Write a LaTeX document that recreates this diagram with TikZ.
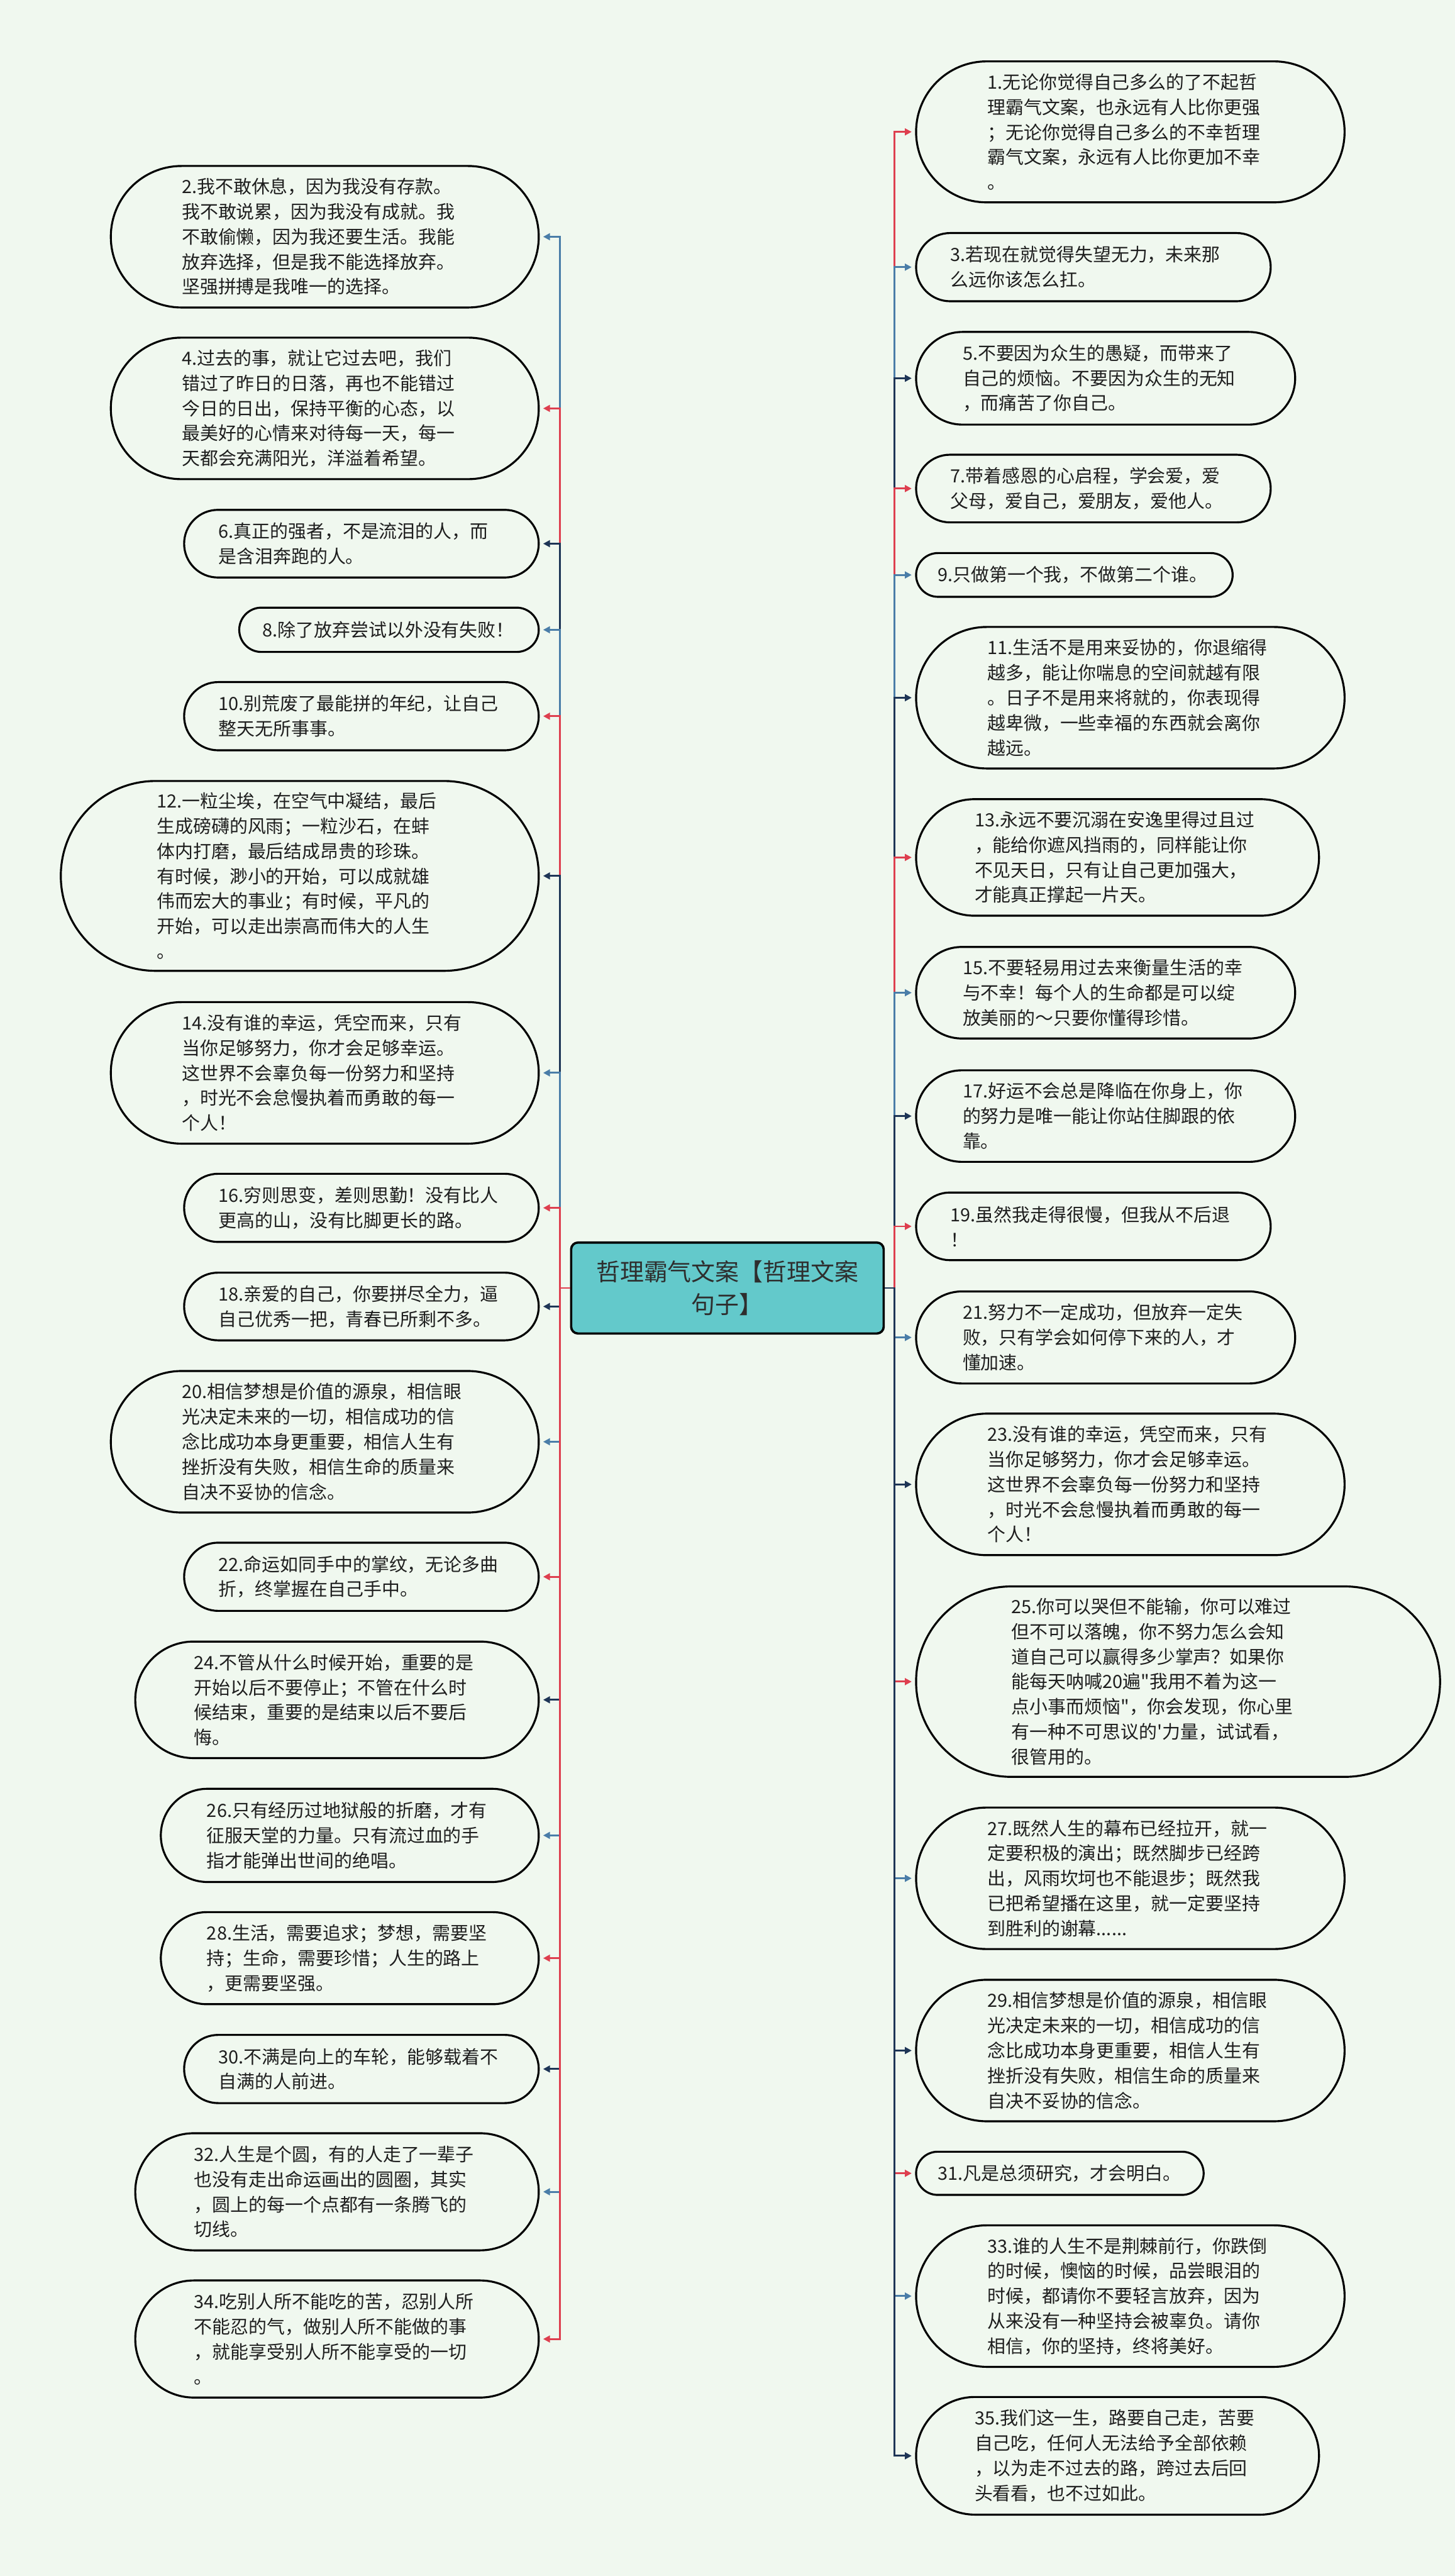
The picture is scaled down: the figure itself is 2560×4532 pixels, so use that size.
\documentclass[tikz,border=0pt]{standalone}
\usepackage{fontspec}
\newfontfamily\cjk{Noto Sans CJK SC}
\usetikzlibrary{shapes.misc,arrows.meta}
\definecolor{bg}{HTML}{F0F8EF}
\definecolor{cred}{HTML}{DE3F4F}
\definecolor{cblue}{HTML}{4A7DA8}
\definecolor{cnavy}{HTML}{1E3556}
\definecolor{rootfill}{HTML}{63C9CB}
\definecolor{txt}{HTML}{1E1E1E}
\definecolor{roottxt}{HTML}{2E2E2E}
\tikzset{
  leaf/.style={draw=black, line width=3.5pt, fill=bg, rounded rectangle, inner sep=0pt,
    text width=503pt, align=left, text=txt, font=\cjk\fontsize{32}{44}\selectfont},
  sz/.style 2 args={minimum width=#1pt, minimum height=#2pt},
  rootbox/.style={draw=black, line width=4pt, fill=rootfill, rounded corners=12pt,
    minimum width=550pt, minimum height=160pt, align=center, text=roottxt,
    font=\cjk\fontsize{42}{57}\selectfont},
  conn/.style={line width=3.2pt, -{Triangle[length=12pt,width=12pt]}, shorten >=6pt}
}
\begin{document}
\begin{tikzpicture}[x=1pt,y=-1pt]
\fill[bg] (0,0) rectangle (2560,4532);
\useasboundingbox (0,0) rectangle (2560,4532);

\node[rootbox] (root) at (1280,2266) {哲理霸气文案【哲理文案\\句子】};
\coordinate (LT) at (985,2266);
\coordinate (RT) at (1574,2266);

% left column
\node[leaf, sz={753}{249}] (n2) at (571.5,416.5) {2.我不敢休息，因为我没有存款。\\我不敢说累，因为我没有成就。我\\不敢偷懒，因为我还要生活。我能\\放弃选择，但是我不能选择放弃。\\坚强拼搏是我唯一的选择。};
\node[leaf, sz={753}{249}] (n4) at (571.5,718.5) {4.过去的事，就让它过去吧，我们\\错过了昨日的日落，再也不能错过\\今日的日出，保持平衡的心态，以\\最美好的心情来对待每一天，每一\\天都会充满阳光，洋溢着希望。};
\node[leaf, sz={624}{119}] (n6) at (636,956.5) {6.真正的强者，不是流泪的人，而\\是含泪奔跑的人。};
\node[leaf, sz={527}{78}, text width=445pt] (n8) at (684.5,1108) {8.除了放弃尝试以外没有失败！};
\node[leaf, sz={624}{120}] (n10) at (636,1260) {10.别荒废了最能拼的年纪，让自己\\整天无所事事。};
\node[leaf, sz={841}{334}] (n12) at (527.5,1541) {12.一粒尘埃，在空气中凝结，最后\\生成磅礴的风雨；一粒沙石，在蚌\\体内打磨，最后结成昂贵的珍珠。\\有时候，渺小的开始，可以成就雄\\伟而宏大的事业；有时候，平凡的\\开始，可以走出崇高而伟大的人生\\。};
\node[leaf, sz={753}{249}] (n14) at (571.5,1887.5) {14.没有谁的幸运，凭空而来，只有\\当你足够努力，你才会足够幸运。\\这世界不会辜负每一份努力和坚持\\，时光不会怠慢执着而勇敢的每一\\个人！};
\node[leaf, sz={624}{120}] (n16) at (636,2125) {16.穷则思变，差则思勤！没有比人\\更高的山，没有比脚更长的路。};
\node[leaf, sz={624}{119}] (n18) at (636,2298.5) {18.亲爱的自己，你要拼尽全力，逼\\自己优秀一把，青春已所剩不多。};
\node[leaf, sz={753}{249}] (n20) at (571.5,2536.5) {20.相信梦想是价值的源泉，相信眼\\光决定未来的一切，相信成功的信\\念比成功本身更重要，相信人生有\\挫折没有失败，相信生命的质量来\\自决不妥协的信念。};
\node[leaf, sz={624}{120}] (n22) at (636,2774) {22.命运如同手中的掌纹，无论多曲\\折，终掌握在自己手中。};
\node[leaf, sz={710}{205}] (n24) at (593,2990.5) {24.不管从什么时候开始，重要的是\\开始以后不要停止；不管在什么时\\候结束，重要的是结束以后不要后\\悔。};
\node[leaf, sz={665}{164}] (n26) at (615.5,3229) {26.只有经历过地狱般的折磨，才有\\征服天堂的力量。只有流过血的手\\指才能弹出世间的绝唱。};
\node[leaf, sz={665}{162}] (n28) at (615.5,3445) {28.生活，需要追求；梦想，需要坚\\持；生命，需要珍惜；人生的路上\\，更需要坚强。};
\node[leaf, sz={624}{120}] (n30) at (636,3640) {30.不满是向上的车轮，能够载着不\\自满的人前进。};
\node[leaf, sz={710}{206}] (n32) at (593,3856) {32.人生是个圆，有的人走了一辈子\\也没有走出命运画出的圆圈，其实\\，圆上的每一个点都有一条腾飞的\\切线。};
\node[leaf, sz={710}{206}] (n34) at (593,4115) {34.吃别人所不能吃的苦，忍别人所\\不能忍的气，做别人所不能做的事\\，就能享受别人所不能享受的一切\\。};

% right column
\node[leaf, sz={754}{248}] (n1) at (1989,232) {1.无论你觉得自己多么的了不起哲\\理霸气文案，也永远有人比你更强\\；无论你觉得自己多么的不幸哲理\\霸气文案，永远有人比你更加不幸\\。};
\node[leaf, sz={624}{120}] (n3) at (1924,470) {3.若现在就觉得失望无力，未来那\\么远你该怎么扛。};
\node[leaf, sz={667}{163}] (n5) at (1945.5,665.5) {5.不要因为众生的愚疑，而带来了\\自己的烦恼。不要因为众生的无知\\，而痛苦了你自己。};
\node[leaf, sz={624}{119}] (n7) at (1924,859.5) {7.带着感恩的心启程，学会爱，爱\\父母，爱自己，爱朋友，爱他人。};
\node[leaf, sz={557}{77}, text width=481pt] (n9) at (1890.5,1011.5) {9.只做第一个我，不做第二个谁。};
\node[leaf, sz={754}{249}] (n11) at (1989,1227.5) {11.生活不是用来妥协的，你退缩得\\越多，能让你喘息的空间就越有限\\。日子不是用来将就的，你表现得\\越卑微，一些幸福的东西就会离你\\越远。};
\node[leaf, sz={709}{205}] (n13) at (1966.5,1508.5) {13.永远不要沉溺在安逸里得过且过\\，能给你遮风挡雨的，同样能让你\\不见天日，只有让自己更加强大，\\才能真正撑起一片天。};
\node[leaf, sz={667}{161}] (n15) at (1945.5,1746.5) {15.不要轻易用过去来衡量生活的幸\\与不幸！每个人的生命都是可以绽\\放美丽的～只要你懂得珍惜。};
\node[leaf, sz={667}{161}] (n17) at (1945.5,1963.5) {17.好运不会总是降临在你身上，你\\的努力是唯一能让你站住脚跟的依\\靠。};
\node[leaf, sz={624}{119}] (n19) at (1924,2157.5) {19.虽然我走得很慢，但我从不后退\\！};
\node[leaf, sz={667}{162}] (n21) at (1945.5,2353) {21.努力不一定成功，但放弃一定失\\败，只有学会如何停下来的人，才\\懂加速。};
\node[leaf, sz={754}{249}] (n23) at (1989,2611.5) {23.没有谁的幸运，凭空而来，只有\\当你足够努力，你才会足够幸运。\\这世界不会辜负每一份努力和坚持\\，时光不会怠慢执着而勇敢的每一\\个人！};
\node[leaf, sz={922}{335}, text width=586pt] (n25) at (2073,2958.5) {25.你可以哭但不能输，你可以难过\\但不可以落魄，你不努力怎么会知\\道自己可以赢得多少掌声？如果你\\能每天呐喊20遍"我用不着为这一\\点小事而烦恼"，你会发现，你心里\\有一种不可思议的'力量，试试看，\\很管用的。};
\node[leaf, sz={754}{249}] (n27) at (1989,3304.5) {27.既然人生的幕布已经拉开，就一\\定要积极的演出；既然脚步已经跨\\出，风雨坎坷也不能退步；既然我\\已把希望播在这里，就一定要坚持\\到胜利的谢幕......};
\node[leaf, sz={754}{249}] (n29) at (1989,3607.5) {29.相信梦想是价值的源泉，相信眼\\光决定未来的一切，相信成功的信\\念比成功本身更重要，相信人生有\\挫折没有失败，相信生命的质量来\\自决不妥协的信念。};
\node[leaf, sz={506}{76}, text width=430pt] (n31) at (1865,3823.5) {31.凡是总须研究，才会明白。};
\node[leaf, sz={754}{249}] (n33) at (1989,4039.5) {33.谁的人生不是荆棘前行，你跌倒\\的时候，懊恼的时候，品尝眼泪的\\时候，都请你不要轻言放弃，因为\\从来没有一种坚持会被辜负。请你\\相信，你的坚持，终将美好。};
\node[leaf, sz={709}{207}] (n35) at (1966.5,4320.5) {35.我们这一生，路要自己走，苦要\\自己吃，任何人无法给予全部依赖\\，以为走不过去的路，跨过去后回\\头看看，也不过如此。};

% connectors left
\draw[conn, cblue] (root.west) -- (LT) |- (n2.east);
\draw[conn, cred]  (root.west) -- (LT) |- (n4.east);
\draw[conn, cnavy] (root.west) -- (LT) |- (n6.east);
\draw[conn, cblue] (root.west) -- (LT) |- (n8.east);
\draw[conn, cred]  (root.west) -- (LT) |- (n10.east);
\draw[conn, cnavy] (root.west) -- (LT) |- (n12.east);
\draw[conn, cblue] (root.west) -- (LT) |- (n14.east);
\draw[conn, cred]  (root.west) -- (LT) |- (n16.east);
\draw[conn, cnavy] (root.west) -- (LT) |- (n18.east);
\draw[conn, cblue] (root.west) -- (LT) |- (n20.east);
\draw[conn, cred]  (root.west) -- (LT) |- (n22.east);
\draw[conn, cnavy] (root.west) -- (LT) |- (n24.east);
\draw[conn, cblue] (root.west) -- (LT) |- (n26.east);
\draw[conn, cred]  (root.west) -- (LT) |- (n28.east);
\draw[conn, cnavy] (root.west) -- (LT) |- (n30.east);
\draw[conn, cblue] (root.west) -- (LT) |- (n32.east);
\draw[conn, cred]  (root.west) -- (LT) |- (n34.east);

% connectors right
\draw[conn, cred]  (root.east) -- (RT) |- (n1.west);
\draw[conn, cblue] (root.east) -- (RT) |- (n3.west);
\draw[conn, cnavy] (root.east) -- (RT) |- (n5.west);
\draw[conn, cred]  (root.east) -- (RT) |- (n7.west);
\draw[conn, cblue] (root.east) -- (RT) |- (n9.west);
\draw[conn, cnavy] (root.east) -- (RT) |- (n11.west);
\draw[conn, cred]  (root.east) -- (RT) |- (n13.west);
\draw[conn, cblue] (root.east) -- (RT) |- (n15.west);
\draw[conn, cnavy] (root.east) -- (RT) |- (n17.west);
\draw[conn, cred]  (root.east) -- (RT) |- (n19.west);
\draw[conn, cblue] (root.east) -- (RT) |- (n21.west);
\draw[conn, cnavy] (root.east) -- (RT) |- (n23.west);
\draw[conn, cred]  (root.east) -- (RT) |- (n25.west);
\draw[conn, cblue] (root.east) -- (RT) |- (n27.west);
\draw[conn, cnavy] (root.east) -- (RT) |- (n29.west);
\draw[conn, cred]  (root.east) -- (RT) |- (n31.west);
\draw[conn, cblue] (root.east) -- (RT) |- (n33.west);
\draw[conn, cnavy] (root.east) -- (RT) |- (n35.west);
\end{tikzpicture}
\end{document}
